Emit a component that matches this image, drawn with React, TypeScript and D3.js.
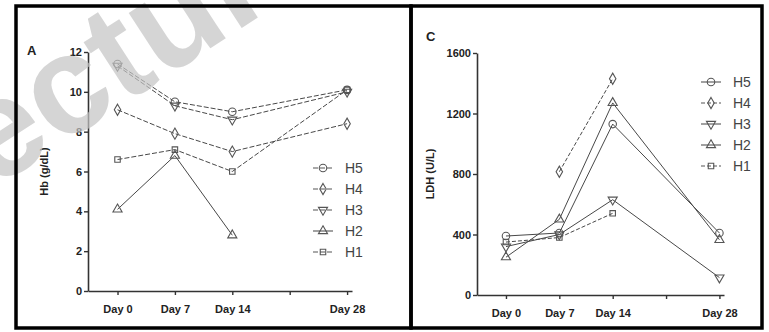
import { useEffect, useRef } from 'react';
import * as d3 from 'd3';

// sampling days (x) and series labels
const days = [0, 7, 14, 28];
const dayTicks = [0, 7, 14, 21, 28];
const dayLabels = ['Day 0', 'Day 7', 'Day 14', '', 'Day 28'];
const seriesNames = ['H5', 'H4', 'H3', 'H2', 'H1'];

// panel A: Hb (g/dL)
const hbH5 = [11.4, 9.5, 9.0, 10.1];
const hbH4 = [9.1, 7.9, 7.0, 8.4];
const hbH3 = [11.3, 9.3, 8.6, 10.0];
const hbH2 = [4.1, 6.8, 2.8, null];
const hbH1 = [6.6, 7.1, 6.0, 10.1];
const hbTicks = [0, 2, 4, 6, 8, 10, 12];

// panel C: LDH (U/L)
const ldhH5 = [390, 410, 1130, 410];
const ldhH4 = [null, 815, 1430, null];
const ldhH3 = [320, 400, 630, 115];
const ldhH2 = [250, 500, 1270, 365];
const ldhH1 = [350, 380, 540, null];
const ldhTicks = [0, 400, 800, 1200, 1600];

type Val = number | null;

const symbols = [
  { type: d3.symbolCircle, size: 44, rotate: 0 },
  { type: d3.symbolDiamond, size: 36, rotate: 0 },
  { type: d3.symbolTriangle, size: 36, rotate: 180 },
  { type: d3.symbolTriangle, size: 36, rotate: 0 },
  { type: d3.symbolSquare, size: 30, rotate: 0 },
];

const FONT = 'Liberation Sans, Arial, sans-serif';

function drawPanel(
  root: d3.Selection<SVGSVGElement, unknown, null, undefined>,
  opts: {
    series: Val[][];
    dashes: string[];
    xDomain: [number, number];
    xRange: [number, number];
    yDomain: [number, number];
    yRange: [number, number];
    yTicks: number[];
    letter: string;
    letterPos: [number, number];
    yTitle: string;
    yTitleX: number;
    legendX: number;
    legendY: number;
  }
) {
  const g = root.append('g');
  const x = d3.scaleLinear().domain(opts.xDomain).range(opts.xRange);
  const y = d3.scaleLinear().domain(opts.yDomain).range(opts.yRange);

  const yAxis = g.append('g')
    .attr('transform', `translate(${opts.xRange[0]},0)`)
    .call(d3.axisLeft(y).tickValues(opts.yTicks).tickSize(4).tickSizeOuter(0).tickPadding(2)
      .tickFormat(d3.format('d')));
  yAxis.select('.domain').attr('stroke', '#333').attr('stroke-width', 1.6);
  yAxis.selectAll('line').attr('stroke', '#333').attr('stroke-width', 1.4);
  yAxis.selectAll('text')
    .attr('font-family', FONT).attr('font-size', '11px').attr('font-weight', 'bold').attr('fill', '#222');

  const xAxis = g.append('g')
    .attr('transform', `translate(0,${opts.yRange[0]})`)
    .call(d3.axisBottom(x).tickValues(dayTicks).tickSize(4).tickSizeOuter(0).tickPadding(10)
      .tickFormat((_, i) => dayLabels[i]));
  xAxis.select('.domain').attr('stroke', '#333').attr('stroke-width', 1.6);
  xAxis.selectAll('line').attr('stroke', '#333').attr('stroke-width', 1.4);
  xAxis.selectAll('text')
    .attr('font-family', FONT).attr('font-size', '11px').attr('font-weight', 'bold').attr('fill', '#222');

  const line = d3.line<Val>()
    .defined(d => d !== null)
    .x((_, i) => x(days[i]))
    .y(d => y(d as number));

  opts.series.forEach((vals, si) => {
    g.append('path')
      .datum(vals)
      .attr('fill', 'none')
      .attr('stroke', '#484848')
      .attr('stroke-width', 1)
      .attr('stroke-dasharray', opts.dashes[si])
      .attr('d', line);
  });

  opts.series.forEach((vals, si) => {
    const s = symbols[si];
    const path = d3.symbol().type(s.type).size(s.size)();
    vals.forEach((v, i) => {
      if (v === null) return;
      g.append('path')
        .attr('d', path)
        .attr('transform', `translate(${x(days[i])},${y(v)}) rotate(${s.rotate})`)
        .attr('fill', 'none')
        .attr('stroke', '#555')
        .attr('stroke-width', 1.1);
    });
  });

  // legend
  seriesNames.forEach((name, i) => {
    const ly = opts.legendY + i * 21;
    const s = symbols[i];
    g.append('line')
      .attr('x1', opts.legendX).attr('x2', opts.legendX + 20)
      .attr('y1', ly).attr('y2', ly)
      .attr('stroke', '#555').attr('stroke-width', 1.1)
      .attr('stroke-dasharray', opts.dashes[i]);
    g.append('path')
      .attr('d', d3.symbol().type(s.type).size(s.size)())
      .attr('transform', `translate(${opts.legendX + 10},${ly}) rotate(${s.rotate})`)
      .attr('fill', 'none').attr('stroke', '#555').attr('stroke-width', 1.1);
    g.append('text')
      .attr('x', opts.legendX + 32).attr('y', ly + 5)
      .attr('font-family', FONT).attr('font-size', '14px').attr('fill', '#444')
      .text(name);
  });

  g.append('text')
    .attr('x', opts.letterPos[0]).attr('y', opts.letterPos[1])
    .attr('font-family', FONT).attr('font-size', '13px').attr('font-weight', 'bold').attr('fill', '#222')
    .text(opts.letter);

  const midY = (opts.yRange[0] + opts.yRange[1]) / 2;
  g.append('text')
    .attr('transform', `translate(${opts.yTitleX},${midY}) rotate(-90)`)
    .attr('text-anchor', 'middle')
    .attr('font-family', FONT).attr('font-size', '11px').attr('font-weight', 'bold').attr('fill', '#222')
    .text(opts.yTitle);
}

export default function App() {
  const svgRef = useRef<SVGSVGElement>(null);

  useEffect(() => {
    if (!svgRef.current) return;
    const svg = d3.select(svgRef.current);
    svg.selectAll('*').remove();

    svg.append('rect').attr('width', 769).attr('height', 332).attr('fill', '#fff');

    drawPanel(svg, {
      series: [hbH5, hbH4, hbH3, hbH2, hbH1],
      dashes: ['5,2', '5,2', '5,2', 'none', '5,2'],
      xDomain: [-3.6, 28.6],
      xRange: [88, 352],
      yDomain: [0, 12],
      yRange: [291, 52],
      yTicks: hbTicks,
      letter: 'A',
      letterPos: [27, 55],
      yTitle: 'Hb (g/dL)',
      yTitleX: 48,
      legendX: 313,
      legendY: 168,
    });

    drawPanel(svg, {
      series: [ldhH5, ldhH4, ldhH3, ldhH2, ldhH1],
      dashes: ['none', '4,2', 'none', 'none', '4,2'],
      xDomain: [-3.8, 28.6],
      xRange: [477, 724],
      yDomain: [0, 1600],
      yRange: [295, 53],
      yTicks: ldhTicks,
      letter: 'C',
      letterPos: [426, 41],
      yTitle: 'LDH (U/L)',
      yTitleX: 434,
      legendX: 701,
      legendY: 82,
    });

    // watermark
    svg.append('text')
      .attr('transform', 'translate(-8,190) rotate(-33)')
      .attr('font-family', FONT).attr('font-size', '140px').attr('font-weight', 'bold')
      .attr('fill', '#c4c4c4').attr('opacity', 0.7)
      .text('ectur');

    // frames
    const frame = svg.append('g').attr('fill', 'none').attr('stroke', '#000').attr('stroke-width', 3.5);
    frame.append('rect').attr('x', 16).attr('y', 6).attr('width', 395).attr('height', 322);
    frame.append('rect').attr('x', 411).attr('y', 6).attr('width', 351).attr('height', 322);
  }, []);

  return (
    <svg
      ref={svgRef}
      width={769}
      height={332}
      style={{ position: 'absolute', left: 0, top: 0 }}
    />
  );
}
